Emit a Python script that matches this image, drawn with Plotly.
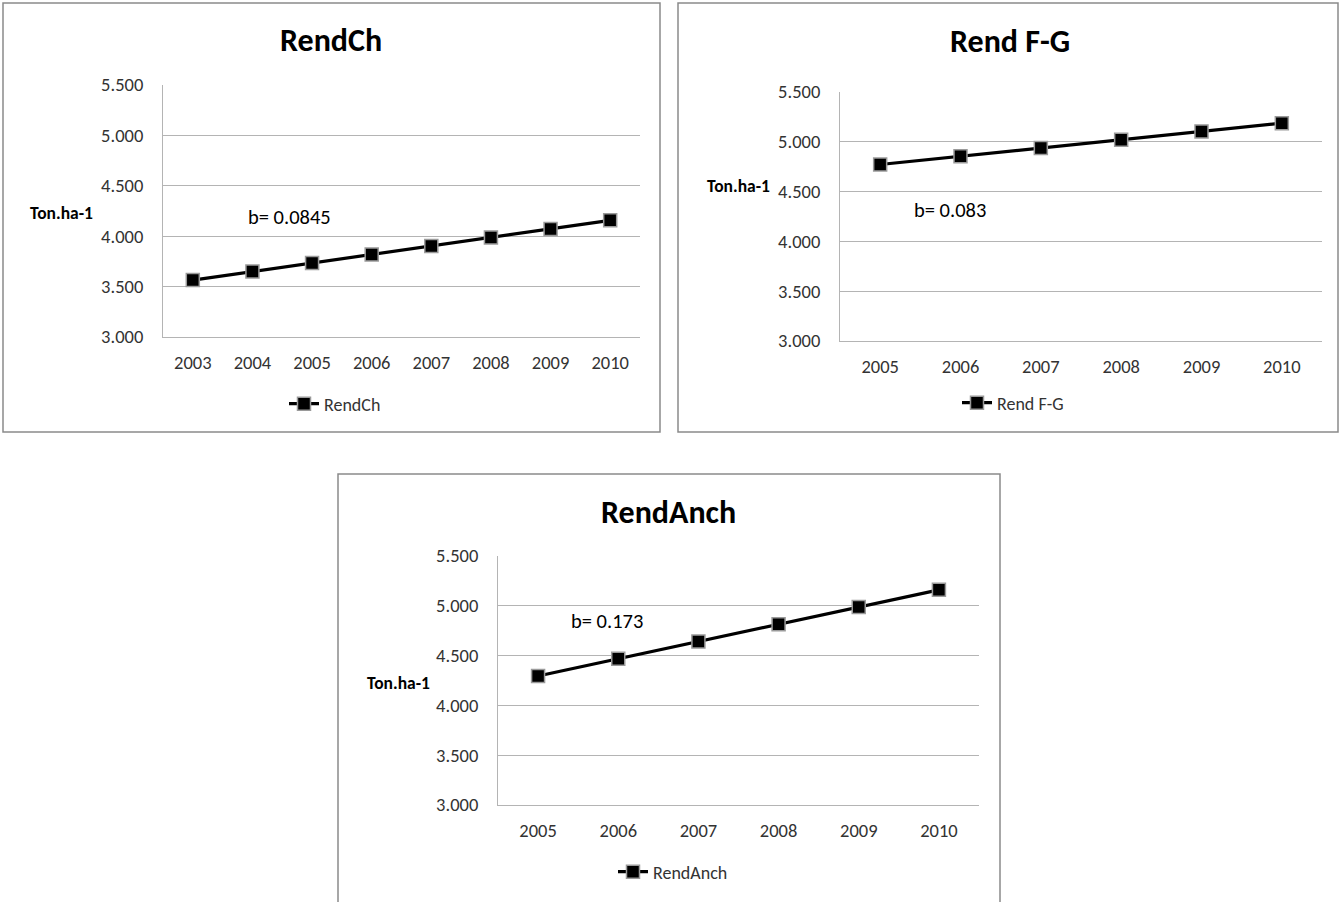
import plotly.graph_objects as go

# ---- data ----
years_ch = ["2003", "2004", "2005", "2006", "2007", "2008", "2009", "2010"]
rend_ch = [3.565, 3.650, 3.734, 3.819, 3.903, 3.988, 4.072, 4.157]

years_fg = ["2005", "2006", "2007", "2008", "2009", "2010"]
rend_fg = [4.772, 4.855, 4.938, 5.021, 5.104, 5.187]

years_anch = ["2005", "2006", "2007", "2008", "2009", "2010"]
rend_anch = [4.295, 4.468, 4.641, 4.814, 4.987, 5.160]

titles = ["RendCh", "Rend F-G", "RendAnch"]
slopes = ["b= 0.0845", "b= 0.083", "b= 0.173"]
y_label = "Ton.ha-1"

W, H = 1341, 902
FONT = "Carlito, Lato, 'Open Sans', sans-serif"
GRID = "#b4b4b4"
BORDER = "#8a8a8a"


def px(x):
    return x / W


def py(y):
    return 1 - y / H


# panel layout in pixels: chart border box, plot box, text anchors
panels = [
    dict(box=(3, 3, 660, 432), plot=(163, 85, 640, 337),
         title=(331, 41), ylab=(61, 213), slope=(289, 217), legend=(285, 404),
         x=years_ch, y=rend_ch),
    dict(box=(678, 3, 1338, 432), plot=(840, 92, 1322, 341),
         title=(1010, 42), ylab=(738, 186), slope=(950, 210), legend=(958, 403),
         x=years_fg, y=rend_fg),
    dict(box=(338, 474, 1000, 905), plot=(498, 556, 979, 805),
         title=(668, 512), ylab=(398, 683), slope=(607, 621), legend=(614, 872),
         x=years_anch, y=rend_anch),
]

fig = go.Figure()
shapes = []
annotations = []

for i, p in enumerate(panels):
    n = "" if i == 0 else str(i + 1)
    legend_name = "legend" if i == 0 else f"legend{i + 1}"
    fig.add_trace(go.Scatter(
        x=p["x"], y=p["y"], name=titles[i],
        xaxis="x" + n, yaxis="y" + n, legend=legend_name,
        mode="lines+markers",
        line=dict(color="black", width=3.2),
        marker=dict(symbol="square", size=13, color="black",
                    line=dict(color="#9a9a9a", width=1.5)),
        showlegend=True,
    ))
    x0, y0, x1, y1 = p["plot"]
    fig.update_layout(**{
        "xaxis" + n: dict(
            domain=[px(x0), px(x1)], anchor="y" + n, type="category",
            range=[-0.5, len(p["x"]) - 0.5],
            showgrid=False, showline=True, linecolor=GRID, linewidth=1,
            ticks="", ticklabelstandoff=9,
            tickfont=dict(family=FONT, size=18.5, color="#333333"),
        ),
        "yaxis" + n: dict(
            domain=[py(y1), py(y0)], anchor="x" + n,
            range=[3.0, 5.5], dtick=0.5, tick0=3.0, tickformat=".3f",
            showgrid=True, gridcolor=GRID, gridwidth=1, zeroline=False,
            showline=True, linecolor=GRID, linewidth=1,
            ticks="", ticklabelstandoff=15,
            tickfont=dict(family=FONT, size=18.5, color="#333333"),
        ),
        legend_name: dict(
            x=px(p["legend"][0] - 1), y=py(p["legend"][1]),
            xanchor="left", yanchor="middle",
            bgcolor="rgba(0,0,0,0)", borderwidth=0,
            font=dict(family=FONT, size=18, color="#333333"),
            itemwidth=30,
        ),
    })
    bx0, by0, bx1, by1 = p["box"]
    shapes.append(dict(type="rect", xref="paper", yref="paper",
                       x0=px(bx0), y0=py(by1), x1=px(bx1), y1=py(by0),
                       line=dict(color=BORDER, width=1.5), layer="below"))
    annotations.append(dict(text=f"<b>{titles[i]}</b>", xref="paper", yref="paper",
                            x=px(p["title"][0]), y=py(p["title"][1]),
                            xanchor="center", yanchor="middle", showarrow=False,
                            font=dict(family=FONT, size=32, color="black")))
    annotations.append(dict(text=f"<b>{y_label}</b>", xref="paper", yref="paper",
                            x=px(p["ylab"][0]), y=py(p["ylab"][1]),
                            xanchor="center", yanchor="middle", showarrow=False,
                            font=dict(family=FONT, size=17.5, color="black")))
    annotations.append(dict(text=slopes[i], xref="paper", yref="paper",
                            x=px(p["slope"][0]), y=py(p["slope"][1]),
                            xanchor="center", yanchor="middle", showarrow=False,
                            font=dict(family=FONT, size=20.5, color="black")))

fig.update_layout(
    width=W, height=H,
    margin=dict(l=0, r=0, t=0, b=0, autoexpand=False),
    paper_bgcolor="white", plot_bgcolor="white",
    shapes=shapes, annotations=annotations,
    font=dict(family=FONT),
)

fig.write_html("out.html")
